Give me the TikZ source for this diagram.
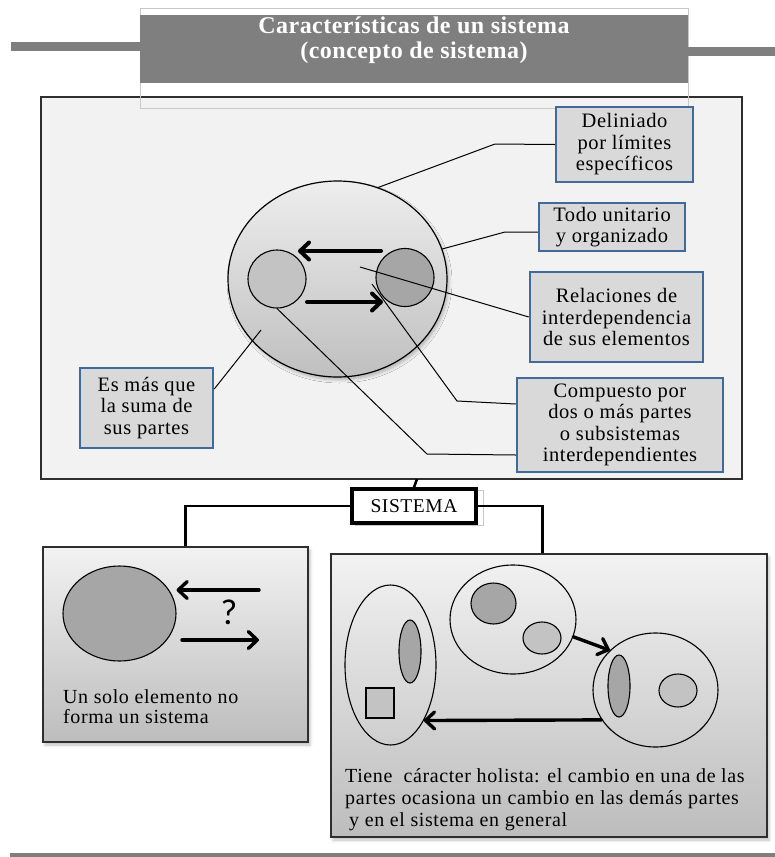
\documentclass[tikz,border=0pt]{standalone}
\usepackage{fontspec}
\setmainfont{Liberation Serif}
\newfontfamily\callfont{Liberation Serif}[LetterSpace=3]
\newfontfamily\bannerfont{Liberation Serif}[LetterSpace=2]
\newfontfamily\qfont{Carlito}
\usetikzlibrary{shapes.geometric,arrows.meta,calc,shadows.blur}

\definecolor{bannergray}{HTML}{7F7F7F}
\definecolor{framegray}{HTML}{C8C8C8}
\definecolor{panelbg}{HTML}{F2F2F2}
\definecolor{boxblue}{HTML}{41699C}
\definecolor{boxfill}{HTML}{D9D9D9}
\definecolor{partdark}{HTML}{A6A6A6}
\definecolor{partlight}{HTML}{C3C3C3}
\definecolor{edgegray}{HTML}{2E2E2E}

\tikzset{
  panelbox/.style={draw=edgegray, line width=1.4pt, fill=panelbg, inner sep=0pt},
  callout/.style={draw=boxblue, line width=2.5pt, fill=boxfill, inner sep=0pt,
    align=center, font={\callfont\fontsize{20.5}{21.5}\selectfont}},
  part/.style={draw=black, line width=1.1pt, inner sep=0pt},
  link/.style={draw=black, line width=1pt},
  trunk/.style={draw=black, line width=2.6pt},
  bigarrow/.style={line width=4pt, line cap=round,
    -{Straight Barb[round, length=9pt, width=17pt]}},
  softshadow/.style={blur shadow={shadow xshift=2pt, shadow yshift=-3pt,
    shadow blur radius=3pt, shadow opacity=25}},
  shadedbox/.style={draw=edgegray, line width=1.3pt, inner sep=0pt,
    top color=white!95!black, bottom color=black!26, softshadow},
  bodytext/.style={align=left, inner sep=0pt}
}

\begin{document}
\begin{tikzpicture}[x=1pt, y=-1pt]
\useasboundingbox (0,0) rectangle (775,857);

% ---------- upper panel ----------
\node[panelbox, minimum width=701pt, minimum height=382pt] (panel) at (391.5,288) {};

% title banner with its frame and side bars
\draw[framegray, line width=1pt] (140,8) rectangle (688,108);
\node[fill=bannergray, inner sep=0pt, minimum width=548pt, minimum height=68pt] (banner) at (414,49) {};
\node[text=white, align=center, inner sep=0pt,
      font={\bannerfont\bfseries\fontsize{24}{25}\selectfont}] (title) at (414,40.5)
  {Características de un sistema\\(concepto de sistema)};
\fill[bannergray] (11,41.5) rectangle (140,50.5);
\fill[bannergray] (688,47) rectangle (775,56);

% the system: whole and parts
\node[ellipse, draw=black, line width=1.2pt, inner sep=0pt,
      minimum width=219pt, minimum height=196pt,
      top color=black!7, bottom color=black!25, softshadow] (sys) at (337.5,279) {};
\node[circle, part, fill=partlight, minimum size=58pt] (pa) at (277,279) {};
\node[circle, part, fill=partdark, minimum size=58pt] (pb) at (405,277.5) {};

\coordinate (ta) at (381,251);
\coordinate (tb) at (298,251);
\coordinate (ba) at (307,302);
\coordinate (bb) at (383,302);
\draw[bigarrow] (ta) -- (tb);
\draw[bigarrow] (ba) -- (bb);

% characteristic boxes
\node[callout, minimum width=137pt, minimum height=75pt] (deli) at (624.5,144.5)
  {Deliniado\\por límites\\específicos};
\node[callout, minimum width=146pt, minimum height=48pt] (todo) at (612,227)
  {Todo unitario\\y organizado};
\node[callout, minimum width=173pt, minimum height=90pt] (rel) at (616.5,317)
  {Relaciones de\\interdependencia\\de sus elementos};
\node[callout, minimum width=206pt, minimum height=94pt] (comp) at (620,425)
  {Compuesto por\\dos o más partes\\o subsistemas\\interdependientes};
\node[callout, minimum width=133pt, minimum height=80pt] (esmas) at (146.5,408)
  {Es más que\\la suma de\\sus partes};

% leader lines
\coordinate (relA) at (360,267);
\coordinate (compA) at (372,284);
\coordinate (esA) at (261,330);
\draw[link] (sys.66) -- (495,144) -- (deli.west);
\draw[link] (sys.16) -- (505,232) -- ($(todo.west)+(0,5)$);
\draw[link] (relA) -- (rel.west);
\draw[link] (compA) -- (457,401) -- ($(comp.west)+(0,-21)$);
\draw[link] (pa.south) -- (427,454) -- ($(comp.west)+(0,30)$);
\draw[link] (esA) -- ($(esmas.east)+(0,-19)$);

% ---------- SISTEMA and its branches ----------
\draw[framegray, line width=0.8pt] (355,490) rectangle (483,525);
\node[draw=black, line width=3.5pt, fill=white, inner sep=0pt,
      minimum width=124pt, minimum height=34pt,
      font={\callfont\fontsize{19.5}{20}\selectfont}] (sis) at (414,506) {SISTEMA};
\coordinate (pnotch) at (417,479);
\draw[trunk] (pnotch) -- (sis.north);

% ---------- single element ----------
\node[shadedbox, minimum width=265pt, minimum height=195pt] (one) at (175.5,644.5) {};
\node[ellipse, part, fill=partdark, minimum width=113pt, minimum height=95pt] (single) at (119.5,613.5) {};
\coordinate (oa) at (259,590);
\coordinate (ob) at (182,640);
\coordinate (oc) at (259,640);
\draw[bigarrow, line width=3.4pt] (oa) -- (single.east |- oa);
\draw[bigarrow, line width=3.4pt] (ob) -- (oc);
\node[font={\qfont\fontsize{36}{36}\selectfont}, inner sep=0pt] (q) at (229,612) {?};
\node[bodytext, anchor=west, font={\callfont\fontsize{20}{19.5}\selectfont}] (onetext) at (63,706.5)
  {Un solo elemento no\\forma un sistema};

% ---------- holistic character ----------
\node[shadedbox, minimum width=436pt, minimum height=283pt] (many) at (549,695.5) {};
\node[ellipse, part, minimum width=91pt, minimum height=160pt] (grpA) at (390.5,665) {};
\node[ellipse, part, fill=partdark, minimum width=22pt, minimum height=63pt] (grpAe) at (410,651.5) {};
\node[part, fill=partlight, minimum width=28pt, minimum height=30pt] (grpAs) at (380,703) {};
\node[ellipse, part, minimum width=126pt, minimum height=109pt] (grpB) at (513,619.5) {};
\node[ellipse, part, fill=partdark, minimum width=45pt, minimum height=41pt] (grpBd) at (493.5,603.5) {};
\node[ellipse, part, fill=partlight, minimum width=38pt, minimum height=32pt] (grpBl) at (542,638) {};
\node[ellipse, part, minimum width=125pt, minimum height=114pt] (grpC) at (655.5,690) {};
\node[ellipse, part, fill=partdark, minimum width=22pt, minimum height=62pt] (grpCd) at (619,686) {};
\node[ellipse, part, fill=partlight, minimum width=38pt, minimum height=33pt] (grpCl) at (678,690.5) {};
\draw[bigarrow, line width=3.4pt] (grpB.-16) -- (grpC.139);
\draw[bigarrow, line width=3.4pt] (grpC.209) -- (grpA.-59);
\node[bodytext, anchor=west, font={\callfont\fontsize{20}{22}\selectfont}] (manytext) at (345,800)
  {Tiene\ \ cáracter holista: el cambio en una de las\\
   partes ocasiona un cambio en las demás partes\\
   \hspace*{4pt}y en el sistema en general};

% branches from SISTEMA to the two cases
\draw[trunk] (sis.west) -| ($(one.north west)+(143,0)$);
\draw[trunk] (sis.east) -| ($(many.north west)+(212,0)$);

% closing rule
\fill[bannergray] (10,853) rectangle (775,856.5);
\end{tikzpicture}
\end{document}
